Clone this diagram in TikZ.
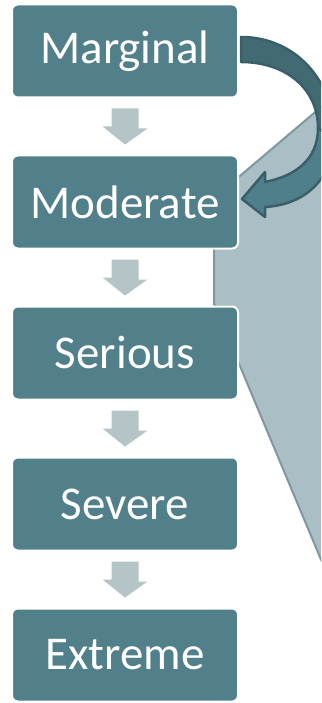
\documentclass[tikz,border=0pt]{standalone}
\usepackage{fontspec}
\setmainfont{Carlito}
\usepackage{tikz}
\usetikzlibrary{calc}
\definecolor{boxteal}{HTML}{517F8A}
\definecolor{stepgray}{HTML}{B5C4C7}
\definecolor{calloutgray}{HTML}{A9BFC5}
\definecolor{calloutedge}{HTML}{7E989D}
\definecolor{bendfront}{HTML}{4F7F8A}
\definecolor{bendback}{HTML}{416A73}
\definecolor{bendedge}{HTML}{3A5F68}

\begin{document}
\begin{tikzpicture}[x=1pt, y=-1pt, line width=1pt,
  level/.style={rectangle, rounded corners=6pt, fill=boxteal, draw=white, line width=2pt,
    minimum width=226pt, minimum height=93pt, inner sep=0pt, text=white,
    font=\fontsize{47}{56}\selectfont},
  stepdown/.style={fill=stepgray},
  jumparrow/.style={draw=bendedge, line width=2.5pt, line join=round}]
\path [use as bounding box, clip] (0,0) rectangle (321,703);

\fill [calloutgray] (340,91) -- (214,198) -- (214,304) -- (340,605) -- cycle;
\draw [calloutedge, line width=2pt] (340,91) -- (214,198) -- (214,304) -- (340,605);

\node [level] (marginal) at (125,51) {Marginal};
\node [level] (moderate) at (125,202) {Moderate};
\node [level] (serious) at (125,353) {Serious};
\node [level] (severe) at (125,504) {Severe};
\node [level] (extreme) at (125,655) {Extreme};

\foreach \a/\b in {marginal/moderate, moderate/serious, serious/severe, severe/extreme}
  \fill [stepdown] ($(\a.south)+(-13.5,10)$) -- ++(27,0) -- ++(0,20) -- ++(9,0)
    -- ($(\b.north)+(0,-10)$) -- ++(-22.5,-18) -- ++(9,0) -- cycle;

\coordinate (tailtop) at ($(marginal.east)+(2,-14)$);
\coordinate (tailbot) at ($(marginal.east)+(2,11)$);
\coordinate (tip) at ($(moderate.east)+(3,-3)$);
\coordinate (outmid) at (335,140);
\coordinate (inmid) at (318,128);

\filldraw [jumparrow, fill=bendback] (tailtop) .. controls (295,37) and (335,80) .. (outmid)
  -- (inmid) .. controls (318,88) and (285,62) .. (tailbot) -- cycle;
\filldraw [jumparrow, fill=bendfront] (outmid) .. controls (330,185) and (300,205) .. ($(tip)+(23,8)$)
  -- ++(0,10) -- (tip) -- ++(23,-27) -- ++(0,10)
  .. controls (295,176) and (318,160) .. (inmid) -- cycle;
\end{tikzpicture}
\end{document}
